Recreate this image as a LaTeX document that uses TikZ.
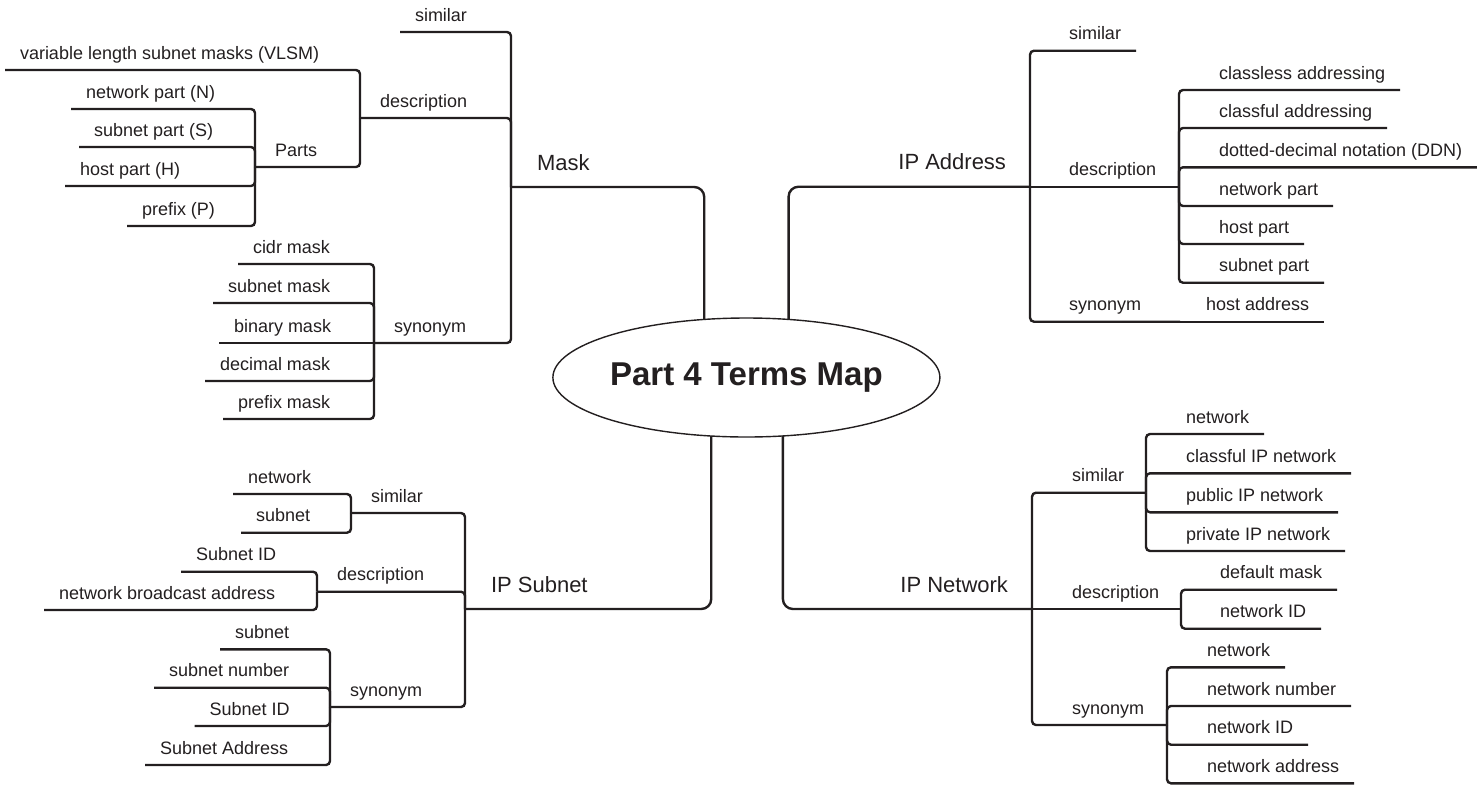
\documentclass[tikz,border=0pt]{standalone}
\usepackage{fontspec}
\setmainfont{Liberation Sans}
\usetikzlibrary{shapes.geometric}
\definecolor{Ink}{HTML}{231F20}
\tikzset{
  hub/.style={ellipse,draw=Ink,line width=1.4pt,minimum width=387pt,minimum height=119pt,inner sep=0pt,outer sep=0pt,text=Ink,font=\fontsize{33}{39}\selectfont\bfseries},
  term/.style={anchor=south west,inner xsep=15pt,inner ysep=11pt,outer sep=0pt,text depth=0pt,text=Ink,font=\fontsize{18}{21}\selectfont},
  lmid/.style={term,inner xsep=20pt},
  rmid/.style={term,align=left},
  lmain/.style={term,inner xsep=26pt,inner ysep=17pt,font=\fontsize{22}{26}\selectfont},
  rmain/.style={lmain,anchor=south east,inner xsep=24pt},
  link/.style={draw=Ink,line width=2.4pt,rounded corners=4pt},
  trunk/.style={link,rounded corners=10pt}
}
\begin{document}
\begin{tikzpicture}[x=1pt,y=-1pt]
  \useasboundingbox (0,0) rectangle (1477,785);
  \node[hub] (hub) at (746.4,377.5) {Part 4 Terms Map};

  \node[lmain] (mask) at (511,187) {Mask};
  \node[term] (msim) at (400,32) {similar};
  \node[lmid] (mdesc) at (360,118) {description};
  \node[term] (vlsm) at (5,70) {variable length subnet masks (VLSM)};
  \node[lmid] (parts) at (255,167) {Parts};
  \node[term] (npart) at (71,109) {network part (N)};
  \node[term] (spart) at (79,147) {subnet part (S)};
  \node[term] (hpart) at (65,186) {host part (H)};
  \node[term] (ppart) at (127,226) {prefix (P)};
  \node[lmid] (msyn) at (374,343) {synonym};
  \node[term] (cidr) at (238,264) {cidr mask};
  \node[term] (subm) at (213,303) {subnet mask};
  \node[term] (binm) at (219,343) {binary mask};
  \node[term] (decm) at (205,381) {decimal mask};
  \node[term] (prefm) at (223,419) {prefix mask};

  \node[lmain] (ipsub) at (465,609) {IP Subnet};
  \node[lmid] (ssim) at (351,513) {similar};
  \node[term] (snet) at (233,494) {network};
  \node[term] (ssub) at (241,532.7) {subnet};
  \node[lmid] (sdesc) at (317,591.7) {description};
  \node[term] (sid) at (181,571.7) {Subnet ID};
  \node[term] (sbcast) at (44,610) {network broadcast address};
  \node[lmid] (ssyn) at (330,707) {synonym};
  \node[term] (ssub2) at (220,649.3) {subnet};
  \node[term] (snum) at (154,687.7) {subnet number};
  \node[term] (sid2) at (194.5,726) {Subnet ID};
  \node[term] (saddr) at (145,765) {Subnet Address};

  \node[rmain] (ipaddr) at (1030,186.7) {IP Address};
  \node[term] (asim) at (1054,50.7) {similar};
  \node[rmid,text width=95pt] (adesc) at (1054,186.7) {description};
  \node[term] (classless) at (1204,90) {classless addressing};
  \node[term] (classful) at (1204,128) {classful addressing};
  \node[term] (ddn) at (1204,167.3) {dotted-decimal notation (DDN)};
  \node[term] (anet) at (1204,206) {network part};
  \node[term] (ahost) at (1204,244) {host part};
  \node[term] (asub) at (1204,282.7) {subnet part};
  \node[rmid,text width=96pt] (asyn) at (1054,321.7) {synonym};
  \node[term] (hostaddr) at (1191,321.7) {host address};

  \node[rmain] (ipnet) at (1032,609) {IP Network};
  \node[rmid,text width=59pt] (nsim) at (1057,492.7) {similar};
  \node[term] (nnet) at (1171,434) {network};
  \node[term] (nclassful) at (1171,473.3) {classful IP network};
  \node[term] (npublic) at (1171,512.3) {public IP network};
  \node[term] (nprivate) at (1171,551) {private IP network};
  \node[rmid,text width=94pt] (ndesc) at (1057,609) {description};
  \node[term] (defmask) at (1205,589.7) {default mask};
  \node[term] (netid) at (1205,628.7) {network ID};
  \node[rmid,text width=80pt] (nsyn) at (1057,725) {synonym};
  \node[term] (nnet2) at (1192,667.3) {network};
  \node[term] (netnum) at (1192,706) {network number};
  \node[term] (netid2) at (1192,744.7) {network ID};
  \node[term] (netaddr) at (1192,783.3) {network address};

  \draw[trunk] (hub.126.6) |- (mask.south west);
  \draw[trunk] (hub.54.9) |- (ipaddr.south east);
  \draw[trunk] (hub.-121.9) |- (ipsub.south west);
  \draw[trunk] (hub.-58.5) |- (ipnet.south east);

  \draw[link] (mask.south west) |- (msim.south west);
  \draw[link] (mask.south west) |- (mdesc.south west);
  \draw[link] (mask.south west) |- (msyn.south west);
  \draw[link] (mdesc.south west) |- (vlsm.south west);
  \draw[link] (mdesc.south west) |- (parts.south west);
  \draw[link] (parts.south west) |- (npart.south west);
  \draw[link] (parts.south west) |- (spart.south west);
  \draw[link] (parts.south west) |- (hpart.south west);
  \draw[link] (parts.south west) |- (ppart.south west);
  \draw[link] (msyn.south west) |- (cidr.south west);
  \draw[link] (msyn.south west) |- (subm.south west);
  \draw[link] (msyn.south west) -- (binm.south west);
  \draw[link] (msyn.south west) |- (decm.south west);
  \draw[link] (msyn.south west) |- (prefm.south west);

  \draw[link] (ipsub.south west) |- (ssim.south west);
  \draw[link] (ipsub.south west) |- (sdesc.south west);
  \draw[link] (ipsub.south west) |- (ssyn.south west);
  \draw[link] (ssim.south west) |- (snet.south west);
  \draw[link] (ssim.south west) |- (ssub.south west);
  \draw[link] (sdesc.south west) |- (sid.south west);
  \draw[link] (sdesc.south west) |- (sbcast.south west);
  \draw[link] (ssyn.south west) |- (ssub2.south west);
  \draw[link] (ssyn.south west) |- (snum.south west);
  \draw[link] (ssyn.south west) |- (sid2.south west);
  \draw[link] (ssyn.south west) |- (saddr.south west);

  \draw[link] (ipaddr.south east) |- (asim.south east);
  \draw[link] (ipaddr.south east) -- (adesc.south east);
  \draw[link] (ipaddr.south east) |- (asyn.south east);
  \draw[link] (adesc.south east) |- (classless.south east);
  \draw[link] (adesc.south east) |- (classful.south east);
  \draw[link] (adesc.south east) |- (ddn.south east);
  \draw[link] (adesc.south east) |- (anet.south east);
  \draw[link] (adesc.south east) |- (ahost.south east);
  \draw[link] (adesc.south east) |- (asub.south east);
  \draw[link] (asyn.south east) -- (hostaddr.south east);

  \draw[link] (ipnet.south east) |- (nsim.south east);
  \draw[link] (ipnet.south east) -- (ndesc.south east);
  \draw[link] (ipnet.south east) |- (nsyn.south east);
  \draw[link] (nsim.south east) |- (nnet.south east);
  \draw[link] (nsim.south east) |- (nclassful.south east);
  \draw[link] (nsim.south east) |- (npublic.south east);
  \draw[link] (nsim.south east) |- (nprivate.south east);
  \draw[link] (ndesc.south east) |- (defmask.south east);
  \draw[link] (ndesc.south east) |- (netid.south east);
  \draw[link] (nsyn.south east) |- (nnet2.south east);
  \draw[link] (nsyn.south east) |- (netnum.south east);
  \draw[link] (nsyn.south east) |- (netid2.south east);
  \draw[link] (nsyn.south east) |- (netaddr.south east);
\end{tikzpicture}
\end{document}
